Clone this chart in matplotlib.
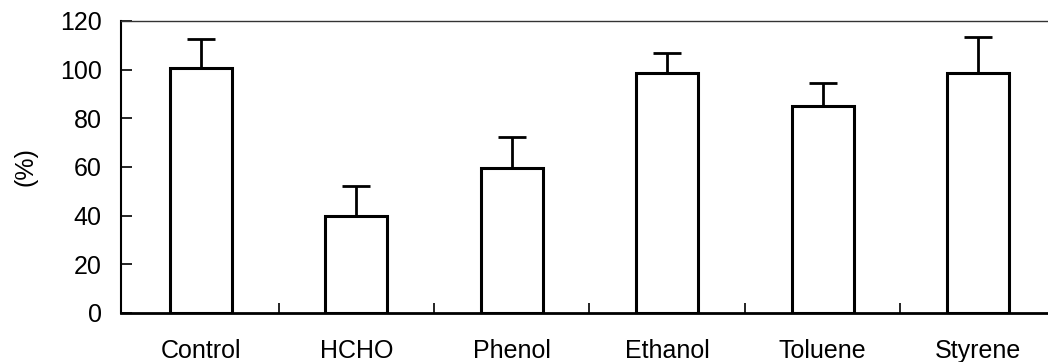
import matplotlib.pyplot as plt
import numpy as np

categories = ["Control", "HCHO", "Phenol", "Ethanol", "Toluene", "Styrene"]
values = [100.8, 40.0, 59.6, 98.8, 85.1, 98.8]
err_top = [112.5, 52.3, 72.3, 106.7, 94.7, 113.3]

plt.rcParams['font.family'] = ['Liberation Sans', 'DejaVu Sans']

fig = plt.figure(figsize=(10.48, 3.62), dpi=100)
ax = fig.add_axes([121 / 1048, 49 / 362, 1 - 121 / 1048, 292 / 362])

x = np.arange(len(categories))
vals = np.array(values)
errs = np.array(err_top) - vals
ax.bar(x, vals, width=0.40, color="white", edgecolor="black", linewidth=2.2, zorder=3)
ax.errorbar(x, vals, yerr=[np.zeros_like(errs), errs], fmt="none", ecolor="black",
            elinewidth=2, capsize=10, capthick=2, zorder=2)

ax.set_xlim(-0.514, 5.45)
ax.set_ylim(0, 120)
ax.set_yticks(range(0, 121, 20))
ax.tick_params(axis="y", direction="in", length=8, width=1.2, labelsize=18, pad=14)

# category labels without ticks, tick marks at group boundaries
ax.set_xticks(x)
ax.set_xticklabels(categories, fontsize=18)
ax.tick_params(axis="x", which="major", length=0, pad=19)
ax.set_xticks(np.arange(0.5, 5.5, 1), minor=True)
ax.tick_params(axis="x", which="minor", direction="in", length=7, width=1.2)

ax.spines["right"].set_visible(False)
ax.spines["top"].set_linewidth(1.0)
ax.spines["top"].set_color("#333333")
ax.spines["left"].set_linewidth(1.5)
ax.spines["bottom"].set_linewidth(2)

ax.set_ylabel("(%)", fontsize=18, labelpad=16)

fig.savefig("out.png", dpi=100)
